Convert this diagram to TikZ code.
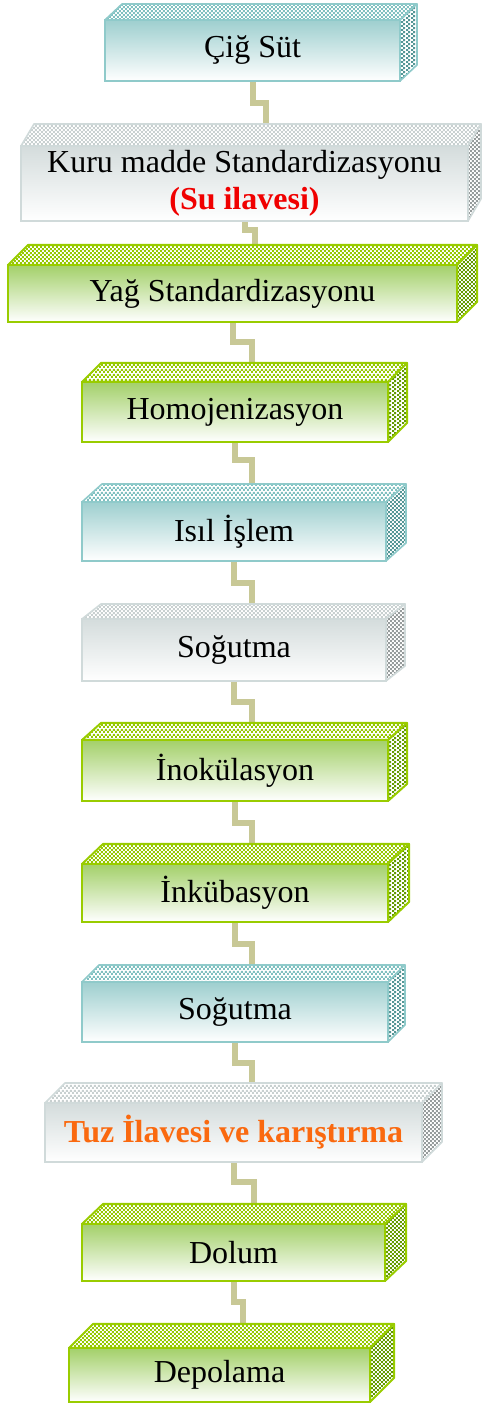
\documentclass[tikz,border=0pt]{standalone}
\usepackage{fontspec}
\setmainfont{Liberation Serif}
\usetikzlibrary{patterns.meta,calc}
\pgfdeclarelayer{bg}
\pgfsetlayers{bg,main}

\definecolor{tealB}{RGB}{143,202,202}
\definecolor{tealF}{RGB}{158,207,207}
\definecolor{tealT}{RGB}{128,192,192}
\definecolor{tealS}{RGB}{85,150,150}
\definecolor{grayB}{RGB}{208,218,218}
\definecolor{grayF}{RGB}{212,220,220}
\definecolor{grayT}{RGB}{200,208,208}
\definecolor{grayS}{RGB}{150,156,156}
\definecolor{greenB}{RGB}{153,204,0}
\definecolor{greenF}{RGB}{163,208,105}
\definecolor{greenT}{RGB}{150,200,0}
\definecolor{greenS}{RGB}{100,155,0}
\definecolor{connC}{RGB}{200,200,150}
\definecolor{redT}{RGB}{240,0,0}
\definecolor{orangeT}{RGB}{250,105,15}

\tikzdeclarepattern{
  name=fchk, type=uncolored,
  bottom left={(0pt,0pt)}, top right={(4.4pt,4.4pt)},
  tile size={(4.4pt,4.4pt)},
  code={\fill (0pt,0pt) rectangle (2.2pt,2.2pt); \fill (2.2pt,2.2pt) rectangle (4.4pt,4.4pt);}
}

\tikzset{
  boxtext/.style={font=\fontsize{32}{37}\selectfont, inner sep=0pt, outer sep=0pt, align=center},
  frontteal/.style={boxtext, draw=tealB, line width=1.6pt, top color=tealF, bottom color=white},
  frontgray/.style={boxtext, draw=grayB, line width=1.6pt, top color=grayF, bottom color=white},
  frontgreen/.style={boxtext, draw=greenB, line width=2pt, top color=greenF, bottom color=white},
  topteal/.style={preaction={fill=white}, pattern=fchk, pattern color=tealT, draw=tealB, line width=1.6pt, line join=round},
  topgray/.style={preaction={fill=white}, pattern=fchk, pattern color=grayT, draw=grayB, line width=1.6pt, line join=round},
  topgreen/.style={preaction={fill=white}, pattern=fchk, pattern color=greenT, draw=greenB, line width=2pt, line join=round},
  sideteal/.style={preaction={fill=white}, pattern=fchk, pattern color=tealS, draw=tealB, line width=1.6pt, line join=round},
  sidegray/.style={preaction={fill=white}, pattern=fchk, pattern color=grayS, draw=grayB, line width=1.6pt, line join=round},
  sidegreen/.style={preaction={fill=white}, pattern=fchk, pattern color=greenS, draw=greenB, line width=2pt, line join=round},
  conn/.style={draw=connC, line width=6pt, line join=miter, line cap=butt}
}

% #1 name, #2 cx, #3 cy, #4 w, #5 h, #6 dx, #7 dy, #8 kind, #9 text
\newcommand\procbox[9]{%
  \node[front#8, minimum width=#4pt, minimum height=#5pt] (#1) at (#2,#3) {#9};
  \path[top#8] (#1.north west) -- ++(#6,#7) -- ($(#1.north east)+(#6,#7)$) -- (#1.north east) -- cycle;
  \path[side#8] (#1.north east) -- ++(#6,#7) -- ($(#1.south east)+(#6,#7)$) -- (#1.south east) -- cycle;
  \coordinate (#1t) at ($(#1.north)+(0,#7)$);
}

\begin{document}
\begin{tikzpicture}[x=1pt,y=1pt]
\useasboundingbox (0,0) rectangle (488,1403);

\procbox{b1}{252.5}{1352.5}{295}{61}{17}{16}{teal}{Çiğ Süt}
\procbox{b2}{244.5}{1219.5}{447}{75}{13}{22}{gray}{Kuru madde Standardizasyonu\\\textcolor{redT}{\textbf{(Su ilavesi)}}}
\procbox{b3}{232.5}{1109.5}{449}{57}{20}{20}{green}{Yağ Standardizasyonu}
\procbox{b4}{235}{991}{306}{60}{19}{19}{green}{Homojenizasyon}
\procbox{b5}{234}{871.5}{304}{59}{20}{18}{teal}{Isıl İşlem}
\procbox{b6}{234}{753}{304}{62}{19}{15}{gray}{Soğutma}
\procbox{b7}{235}{632.5}{306}{61}{19}{17}{green}{İnokülasyon}
\procbox{b8}{235}{510}{306}{58}{21}{20}{green}{İnkübasyon}
\procbox{b9}{235}{391}{306}{60}{17}{17}{teal}{Soğutma}
\procbox{b10}{233.5}{270.5}{377}{59}{20}{20}{gray}{\textcolor{orangeT}{\textbf{Tuz İlavesi ve karıştırma}}}
\procbox{b11}{233.5}{150.5}{303}{57}{21}{20}{green}{Dolum}
\procbox{b12}{219.5}{28}{301}{54}{24}{24}{green}{Depolama}

\coordinate (j1) at (266,1300);
\coordinate (j2) at (255,1173);
\coordinate (j3) at (252,1061);
\coordinate (j4) at (252,943);
\coordinate (j5) at (252,820);
\coordinate (j6) at (252,701);
\coordinate (j7) at (252,580);
\coordinate (j8) at (252,459);
\coordinate (j9) at (252,340);
\coordinate (j10) at (254,221);
\coordinate (j11) at (243,101);

\begin{pgfonlayer}{bg}
\draw[conn] (b1.south) |- (j1) -- (j1 |- b2t);
\draw[conn] (b2.south) |- (j2) -- (j2 |- b3t);
\draw[conn] (b3.south) |- (j3) -- (j3 |- b4t);
\draw[conn] (b4.south) |- (j4) -- (j4 |- b5t);
\draw[conn] (b5.south) |- (j5) -- (j5 |- b6t);
\draw[conn] (b6.south) |- (j6) -- (j6 |- b7t);
\draw[conn] (b7.south) |- (j7) -- (j7 |- b8t);
\draw[conn] (b8.south) |- (j8) -- (j8 |- b9t);
\draw[conn] (b9.south) |- (j9) -- (j9 |- b10t);
\draw[conn] (b10.south) |- (j10) -- (j10 |- b11t);
\draw[conn] (b11.south) |- (j11) -- (j11 |- b12t);
\end{pgfonlayer}
\end{tikzpicture}
\end{document}
